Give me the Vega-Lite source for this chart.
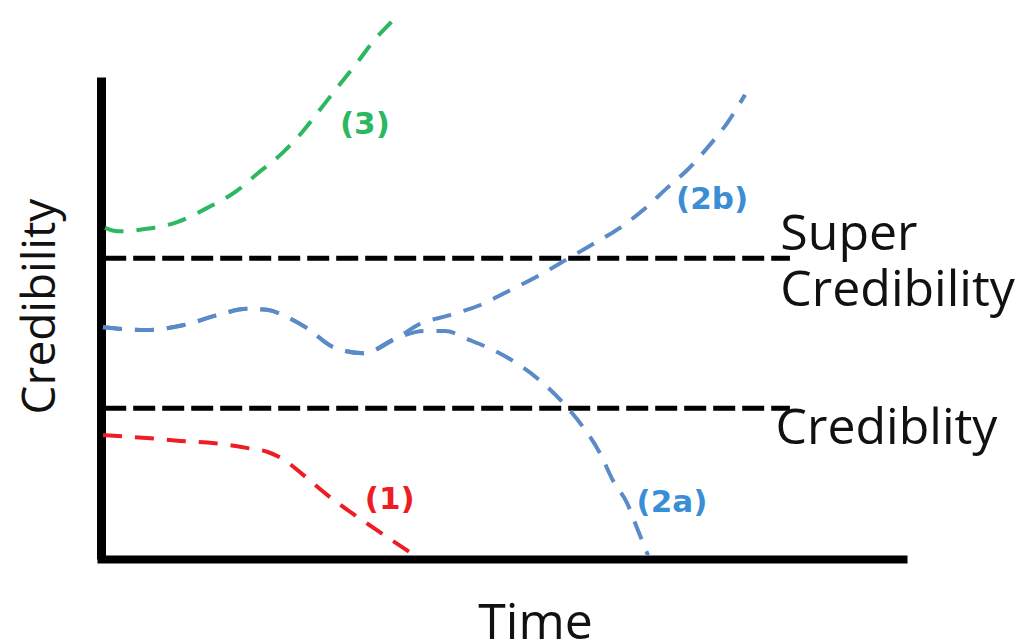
{
  "$schema": "https://vega.github.io/schema/vega-lite/v6.json",
  "autosize": {"type": "none"},
  "width": 802,
  "height": 482,
  "padding": {"left": 101, "top": 77, "right": 128, "bottom": 85},
  "background": "white",
  "view": {"stroke": null},
  "datasets": {
    "curves": [
      {"series": "1", "t": 0.25, "c": 25.7},
      {"series": "1", "t": 5.7, "c": 25.1},
      {"series": "1", "t": 9.9, "c": 24.5},
      {"series": "1", "t": 14.2, "c": 24.0},
      {"series": "1", "t": 18.3, "c": 23.0},
      {"series": "1", "t": 20.8, "c": 22.2},
      {"series": "1", "t": 22.8, "c": 20.6},
      {"series": "1", "t": 25.1, "c": 17.6},
      {"series": "1", "t": 28.2, "c": 13.3},
      {"series": "1", "t": 31.3, "c": 9.5},
      {"series": "1", "t": 34.4, "c": 6.0},
      {"series": "1", "t": 37.7, "c": 2.3},
      {"series": "1", "t": 38.9, "c": 1.0},
      {"series": "2b", "t": 0.25, "c": 48.1},
      {"series": "2b", "t": 5.7, "c": 47.5},
      {"series": "2b", "t": 10.2, "c": 48.5},
      {"series": "2b", "t": 14.5, "c": 50.6},
      {"series": "2b", "t": 18.2, "c": 51.9},
      {"series": "2b", "t": 20.7, "c": 51.7},
      {"series": "2b", "t": 23.2, "c": 50.2},
      {"series": "2b", "t": 25.7, "c": 47.9},
      {"series": "2b", "t": 28.9, "c": 44.0},
      {"series": "2b", "t": 32.7, "c": 42.7},
      {"series": "2b", "t": 36.9, "c": 45.9},
      {"series": "2b", "t": 39.8, "c": 48.8},
      {"series": "2b", "t": 43.5, "c": 50.6},
      {"series": "2b", "t": 47.3, "c": 52.7},
      {"series": "2b", "t": 50.6, "c": 55.4},
      {"series": "2b", "t": 54.7, "c": 58.9},
      {"series": "2b", "t": 58.1, "c": 62.2},
      {"series": "2b", "t": 61.3, "c": 65.3},
      {"series": "2b", "t": 64.7, "c": 68.7},
      {"series": "2b", "t": 67.6, "c": 72.4},
      {"series": "2b", "t": 70.6, "c": 77.0},
      {"series": "2b", "t": 73.1, "c": 80.7},
      {"series": "2b", "t": 75.6, "c": 85.3},
      {"series": "2b", "t": 78.1, "c": 90.5},
      {"series": "2b", "t": 80.3, "c": 96.3},
      {"series": "2a", "t": 0.25, "c": 48.1},
      {"series": "2a", "t": 5.7, "c": 47.5},
      {"series": "2a", "t": 10.2, "c": 48.5},
      {"series": "2a", "t": 14.5, "c": 50.6},
      {"series": "2a", "t": 18.2, "c": 51.9},
      {"series": "2a", "t": 20.7, "c": 51.7},
      {"series": "2a", "t": 23.2, "c": 50.2},
      {"series": "2a", "t": 25.7, "c": 47.9},
      {"series": "2a", "t": 28.9, "c": 44.0},
      {"series": "2a", "t": 32.7, "c": 42.7},
      {"series": "2a", "t": 36.9, "c": 45.9},
      {"series": "2a", "t": 40.4, "c": 47.3},
      {"series": "2a", "t": 42.9, "c": 47.3},
      {"series": "2a", "t": 46.0, "c": 45.4},
      {"series": "2a", "t": 49.1, "c": 43.2},
      {"series": "2a", "t": 52.2, "c": 40.2},
      {"series": "2a", "t": 55.1, "c": 36.5},
      {"series": "2a", "t": 58.1, "c": 31.5},
      {"series": "2a", "t": 60.1, "c": 27.4},
      {"series": "2a", "t": 62.2, "c": 22.0},
      {"series": "2a", "t": 63.8, "c": 16.4},
      {"series": "2a", "t": 65.6, "c": 11.6},
      {"series": "2a", "t": 66.8, "c": 6.6},
      {"series": "2a", "t": 68.2, "c": 0.8},
      {"series": "3", "t": 0.5, "c": 68.7},
      {"series": "3", "t": 2.1, "c": 68.0},
      {"series": "3", "t": 5.7, "c": 68.5},
      {"series": "3", "t": 9.5, "c": 69.9},
      {"series": "3", "t": 13.2, "c": 72.8},
      {"series": "3", "t": 16.7, "c": 76.1},
      {"series": "3", "t": 19.6, "c": 80.1},
      {"series": "3", "t": 22.6, "c": 84.2},
      {"series": "3", "t": 25.1, "c": 88.6},
      {"series": "3", "t": 27.3, "c": 93.2},
      {"series": "3", "t": 29.4, "c": 97.7},
      {"series": "3", "t": 31.9, "c": 102.9},
      {"series": "3", "t": 33.9, "c": 107.3},
      {"series": "3", "t": 36.4, "c": 111.8},
      {"series": "3", "t": 37.2, "c": 113.3}
    ],
    "thresholds": [
      {"name": "Super Credibility", "t": 0.4, "t2": 85.9, "c": 62.4},
      {"name": "Crediblity", "t": 0.4, "t2": 85.9, "c": 31.3}
    ],
    "curveLabels": [
      {"series": "3", "label": "(3)", "t": 32.9, "c": 90.0},
      {"series": "2b", "label": "(2b)", "t": 76.2, "c": 74.5},
      {"series": "1", "label": "(1)", "t": 36.0, "c": 12.2},
      {"series": "2a", "label": "(2a)", "t": 71.2, "c": 11.6}
    ],
    "thresholdLabels": [
      {"label": "Super", "t": 84.7, "c": 64.1},
      {"label": "Credibility", "t": 84.7, "c": 52.5},
      {"label": "Crediblity", "t": 84.1, "c": 23.9}
    ]
  },
  "encoding": {
    "x": {
      "field": "t", "type": "quantitative",
      "scale": {"domain": [0, 100], "nice": false, "zero": false},
      "axis": {
        "title": "Time", "labels": false, "ticks": false, "grid": false,
        "domainColor": "black", "domainWidth": 8, "domainCap": "square",
        "titleFont": "Open Sans", "titleFontSize": 50, "titleFontWeight": "normal",
        "titleColor": "#111111", "titleX": 434, "titleY": 79, "titleBaseline": "alphabetic",
        "titleAnchor": "start", "titleAlign": "center"
      }
    },
    "y": {
      "field": "c", "type": "quantitative",
      "scale": {"domain": [0, 100], "nice": false, "zero": false},
      "axis": {
        "title": "Credibility", "labels": false, "ticks": false, "grid": false,
        "domainColor": "black", "domainWidth": 9, "domainCap": "butt",
        "titleFont": "Open Sans", "titleFontSize": 46, "titleFontWeight": "normal",
        "titleColor": "#111111", "titleAngle": -90, "titleX": -47, "titleY": 229,
        "titleBaseline": "alphabetic", "titleAlign": "center", "titleAnchor": "start"
      }
    }
  },
  "resolve": {"scale": {"color": "independent"}},
  "layer": [
    {
      "data": {"name": "thresholds"},
      "mark": {"type": "rule", "color": "black", "strokeWidth": 5, "strokeDash": [22, 7]},
      "encoding": {"x2": {"field": "t2"}}
    },
    {
      "data": {"name": "curves"},
      "mark": {"type": "line", "strokeWidth": 4, "strokeDash": [19, 13], "interpolate": "monotone", "clip": false},
      "encoding": {
        "detail": {"field": "series"},
        "color": {
          "field": "series", "type": "nominal",
          "scale": {"domain": ["1", "2a", "2b", "3"], "range": ["#ee1d25", "#5b8ac8", "#5b8ac8", "#2db760"]},
          "legend": null
        }
      }
    },
    {
      "data": {"name": "curveLabels"},
      "mark": {"type": "text", "font": "DejaVu Sans", "fontSize": 31, "fontWeight": "bold", "align": "center", "baseline": "middle"},
      "encoding": {
        "text": {"field": "label"},
        "color": {
          "field": "label", "type": "nominal",
          "scale": {"domain": ["(1)", "(2a)", "(2b)", "(3)"], "range": ["#ee1d25", "#3a8ed6", "#3a8ed6", "#2db760"]},
          "legend": null
        }
      }
    },
    {
      "data": {"name": "thresholdLabels"},
      "mark": {"type": "text", "font": "Open Sans", "fontSize": 50, "align": "left", "baseline": "alphabetic", "color": "#111111"},
      "encoding": {"text": {"field": "label"}}
    }
  ]
}
